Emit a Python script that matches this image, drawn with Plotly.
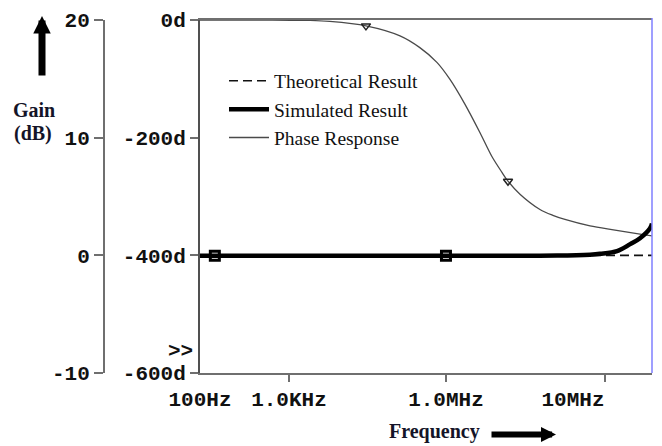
import math
import plotly.graph_objects as go

# ---------------- data ----------------
# x axis (log frequency, Hz)
x_range_hz = [28.4e3, 19.75e6]
x_label_freqs = [28.4e3, 1.03e5, 1.0e6, 6.29e6]
x_label_text = ["100Hz", "1.0KHz", "1.0MHz", "10MHz"]
x_tick_freqs = [1.03e5, 1.0e6, 1.0e7]

# gain axis (dB)
gain_tick_vals = [-10, 0, 10, 20]
gain_tick_text = ["-10", "0", "10", "20"]
# phase axis (degrees)
phase_tick_vals = [-600, -400, -200, 0]
phase_tick_text = ["-600d", "-400d", "-200d", "0d"]

# Theoretical gain (dB)
theo_freq = [28.4e3, 1.0e6, 19.75e6]
theo_gain = [0.0, 0.0, 0.0]

# Simulated gain (dB)
sim_freq = [28.4e3, 1.0e6, 5.0e6, 8.05e6, 9.3e6, 11.9e6, 14.4e6, 16.6e6, 19.2e6, 19.75e6]
sim_gain = [-0.03, -0.03, -0.02, 0.06, 0.13, 0.36, 0.95, 1.45, 2.3, 2.7]
sim_marker_freq = [35.2e3, 1.0e6]
sim_marker_gain = [-0.03, -0.03]

# Phase response (degrees)
phase_freq = [28.4e3, 80e3, 140e3, 186e3, 314e3, 514e3, 685e3, 877e3, 1.06e6, 1.315e6,
              1.64e6, 1.945e6, 2.25e6, 2.455e6, 2.92e6, 3.9e6, 4.7e6, 5.6e6, 8.05e6,
              11.56e6, 16.6e6, 19.75e6]
phase_deg = [0, 0, -0.8, -2.5, -10, -27, -47, -72, -101, -143,
             -192, -232, -259, -274, -296, -322, -332, -339, -350,
             -357, -364, -367]
phase_marker_freq = [314e3, 2.455e6]
phase_marker_deg = [-10, -274]

# ---------------- figure ----------------
AX = "#6f6f6f"
TICKFONT = dict(family="Liberation Mono", size=21, color="#111111", weight="bold")
SERIF = "Liberation Serif"

fig = go.Figure()

fig.add_trace(go.Scatter(
    x=theo_freq, y=theo_gain, xaxis="x", yaxis="y2", mode="lines",
    name="Theoretical Result", legendgroup="a",
    line=dict(color="#111111", width=1.6, dash="9px,5px")))

fig.add_trace(go.Scatter(
    x=sim_freq, y=sim_gain, xaxis="x", yaxis="y2", mode="lines",
    name="Simulated Result", legendgroup="b",
    line=dict(color="#000000", width=4.5, shape="spline")))
fig.add_trace(go.Scatter(
    x=sim_marker_freq, y=sim_marker_gain, xaxis="x", yaxis="y2", mode="markers",
    showlegend=False, legendgroup="b",
    marker=dict(symbol="square-open", size=9, color="#000000", line=dict(width=3))))

fig.add_trace(go.Scatter(
    x=phase_freq, y=phase_deg, xaxis="x", yaxis="y", mode="lines",
    name="Phase Response", legendgroup="c",
    line=dict(color="#4a4a4a", width=1.3, shape="spline", smoothing=0.9)))
fig.add_trace(go.Scatter(
    x=phase_marker_freq, y=phase_marker_deg, xaxis="x", yaxis="y", mode="markers",
    showlegend=False, legendgroup="c",
    marker=dict(symbol="triangle-down-open", size=8, color="#222222", line=dict(width=1.5))))

fig.update_layout(
    width=662, height=446,
    margin=dict(l=60, r=10, t=17, b=73),
    paper_bgcolor="white", plot_bgcolor="white",
    hovermode=False,
    xaxis=dict(
        type="log", range=[math.log10(x_range_hz[0]), math.log10(x_range_hz[1])],
        domain=[140 / 592, 1],
        showline=True, linecolor=AX, linewidth=2, mirror=True,
        showgrid=False, zeroline=False,
        tickmode="array", tickvals=x_label_freqs, ticktext=x_label_text,
        ticks="", tickfont=TICKFONT, ticklabelstandoff=6,
        minor=dict(ticks="outside", tickmode="array", tickvals=x_tick_freqs,
                   ticklen=7, tickcolor=AX, tickwidth=1.5, showgrid=False),
    ),
    yaxis=dict(
        range=[-600, 0], anchor="x", side="left",
        showline=True, linecolor="#505050", linewidth=2,
        showgrid=False, zeroline=False,
        tickmode="array", tickvals=phase_tick_vals, ticktext=phase_tick_text,
        ticks="outside", ticklen=8, tickwidth=1.5, tickcolor=AX,
        tickfont=TICKFONT,
    ),
    yaxis2=dict(
        range=[-10, 20], overlaying="y", anchor="free", position=44 / 592, side="left",
        showline=True, linecolor=AX, linewidth=2,
        showgrid=False, zeroline=False,
        tickmode="array", tickvals=gain_tick_vals, ticktext=gain_tick_text,
        ticks="outside", ticklen=9, tickwidth=1.5, tickcolor=AX,
        tickfont=TICKFONT,
    ),
    legend=dict(
        x=(224 - 60) / 592, y=(373 - 59) / 356, xanchor="left", yanchor="top",
        bgcolor="rgba(0,0,0,0)", borderwidth=0,
        font=dict(family=SERIF, size=19.5, color="#111111"),
        itemwidth=40, tracegroupgap=0, traceorder="grouped",
    ),
    shapes=[dict(type="line", xref="paper", yref="paper", x0=1, x1=1, y0=0, y1=1.006,
                 line=dict(color="#7f7fff", width=1.5))],
)


def px(xp, yp):
    return (xp - 60) / 592, (373 - yp) / 356


LABELFONT = dict(family=SERIF, size=20, color="#141428")
annots = []
gx, gy = px(34, 108)
annots.append(dict(x=gx, y=gy, xref="paper", yref="paper", text="<b>Gain</b>", showarrow=False,
                   xanchor="center", yanchor="middle", font=LABELFONT))
dx, dy = px(33, 131)
annots.append(dict(x=dx, y=dy, xref="paper", yref="paper", text="<b>(dB)</b>", showarrow=False,
                   xanchor="center", yanchor="middle", font=LABELFONT))
ax_, ay_ = px(42, 13)
annots.append(dict(x=ax_, y=ay_, xref="paper", yref="paper", text="", showarrow=True,
                   ax=0, ay=61, arrowhead=2, arrowsize=0.5, arrowwidth=7, arrowcolor="#000000"))
fx, fy = px(434, 432)
annots.append(dict(x=fx, y=fy, xref="paper", yref="paper", text="<b>Frequency</b>", showarrow=False,
                   xanchor="center", yanchor="middle", font=LABELFONT))
tx, ty = px(556, 435)
annots.append(dict(x=tx, y=ty, xref="paper", yref="paper", text="", showarrow=True,
                   ax=-66, ay=0, arrowhead=2, arrowsize=0.5, arrowwidth=6, arrowcolor="#000000"))
cx, cy = px(180, 351)
annots.append(dict(x=cx, y=cy, xref="paper", yref="paper", text=">>", showarrow=False,
                   xanchor="center", yanchor="middle", font=TICKFONT))
fig.update_layout(annotations=annots)

fig.write_html("out.html", config={"displayModeBar": False},
               post_script="document.body.style.margin='0';")
